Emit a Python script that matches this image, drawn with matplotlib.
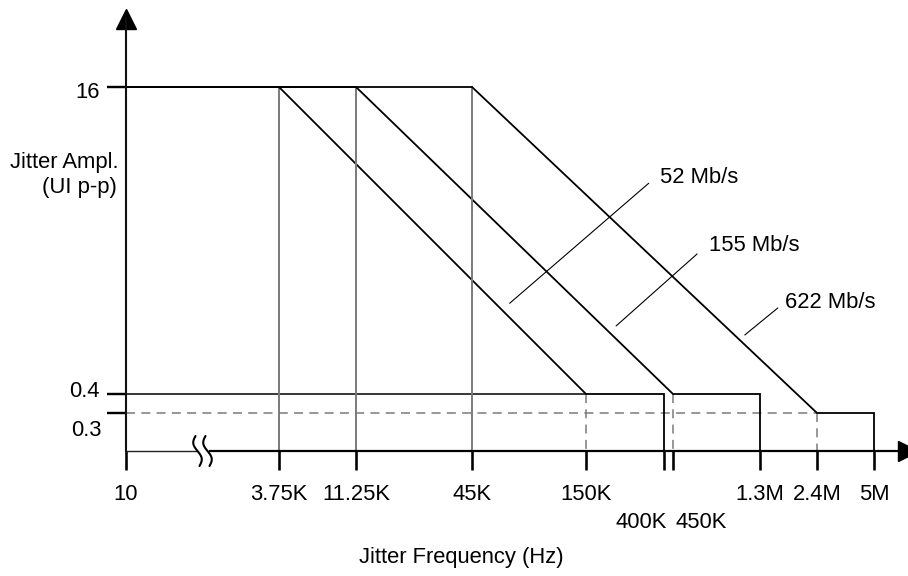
import numpy as np
import matplotlib
matplotlib.use("Agg")
import matplotlib.pyplot as plt
from matplotlib.ticker import NullLocator
from matplotlib.transforms import blended_transform_factory, ScaledTranslation

plt.rcParams['font.family'] = ['Liberation Sans', 'DejaVu Sans']
plt.rcParams['lines.scale_dashes'] = False

# ---------------- data ----------------
freq_ticks = [10, 3.75e3, 11.25e3, 45e3, 150e3, 400e3, 450e3, 1.3e6, 2.4e6, 5e6]
freq_labels = ["10", "3.75K", "11.25K", "45K", "150K", "400K", "450K", "1.3M", "2.4M", "5M"]
amp_ticks = [16, 0.4, 0.3]
amp_labels = ["16", "0.4", "0.3"]

rates = ["52 Mb/s", "155 Mb/s", "622 Mb/s"]
f_start = 10                       # lowest frequency of every mask
f_corner_hi = [3.75e3, 11.25e3, 45e3]   # end of the 16 UI plateau
f_corner_lo = [150e3, 450e3, 2.4e6]     # start of the low plateau
f_stop = [400e3, 1.3e6, 5e6]            # upper end of the mask
amp_hi = [16, 16, 16]
amp_lo = [0.4, 0.4, 0.3]

# ---------------- schematic axis layout ----------------
W, H, DPI = 908, 576, 100
X0, XR = 126, 908          # origin and right end (pixels)
Y0, YT = 451, 19           # origin and top end (pixels, from top)

# piecewise log axis (the low-frequency part is compressed by an axis break)
X_LOG = np.log10([1e-3] + freq_ticks + [1e9])
X_PX = np.array([-634, 126, 279, 356, 472, 586, 664, 673, 760, 817, 874, 1311.0])
Y_LOG = np.log10([1e-3, 0.3, 0.4, 16, 1e3])
Y_PX = np.array([883.6, 413, 394, 87, -254.2])


def _log(v):
    v = np.asarray(v, dtype=float)
    return np.log10(np.where(v > 0, v, 1e-12))


def x_fwd(f):
    return np.interp(_log(f), X_LOG, X_PX)


def x_inv(p):
    return 10 ** np.interp(np.asarray(p, dtype=float), X_PX, X_LOG)


def y_fwd(v):
    return H - np.interp(_log(v), Y_LOG, Y_PX)


def y_inv(s):
    return 10 ** np.interp(H - np.asarray(s, dtype=float), Y_PX[::-1], Y_LOG[::-1])


FS = 15.8
fig = plt.figure(figsize=(W / DPI, H / DPI), dpi=DPI)
ax = fig.add_axes([X0 / W, (H - Y0) / H, (XR - X0) / W, (Y0 - YT) / H])
ax.set_xscale('function', functions=(x_fwd, x_inv))
ax.set_yscale('function', functions=(y_fwd, y_inv))
ax.set_xlim(float(x_inv(X0)), float(x_inv(XR)))
ax.set_ylim(float(y_inv(H - Y0)), float(y_inv(H - YT)))
ax.patch.set_visible(False)
y_base = ax.get_ylim()[0]

LW = 1.3
GREY = '#7a7a7a'

# reference levels
ax.plot([f_start, f_corner_lo[0]], [0.4, 0.4], color='k', lw=1.1, clip_on=False)
ax.plot([f_start, f_corner_lo[2]], [0.3, 0.3], color=GREY, lw=1.1,
        linestyle=(0, (6.5, 4.5)), clip_on=False)

for i in range(len(rates)):
    # vertical marker at the upper corner
    ax.plot([f_corner_hi[i], f_corner_hi[i]], [amp_hi[i], y_base], color=GREY, lw=1.4)
    # dashed drop at the lower corner
    ax.plot([f_corner_lo[i], f_corner_lo[i]], [amp_lo[i], y_base], color=GREY, lw=1.1,
            linestyle=(0, (6.5, 4.5)))
    # the tolerance mask
    ax.plot([f_start, f_corner_hi[i], f_corner_lo[i], f_stop[i], f_stop[i]],
            [amp_hi[i], amp_hi[i], amp_lo[i], amp_lo[i], y_base],
            color='k', lw=LW, solid_joinstyle='miter', clip_on=False)

# rate labels with leader lines
anchor_f = [67e3, 219e3, 1.08e6]
anchor_a = [1.19, 0.906, 0.813]
leader_end = [(139, 120), (81, 72), (33, 27)]
text_off = [(150, 120), (93, 75), (40, 27)]
for i, name in enumerate(rates):
    ax.annotate('', xy=(anchor_f[i], anchor_a[i]), xytext=leader_end[i],
                textcoords='offset pixels',
                arrowprops=dict(arrowstyle='-', color='k', lw=0.8,
                                shrinkA=0, shrinkB=0))
    ax.annotate(name, xy=(anchor_f[i], anchor_a[i]), xytext=text_off[i],
                textcoords='offset pixels', ha='left', va='baseline', fontsize=FS)

# axes lines and arrows
for s in ['top', 'right', 'bottom']:
    ax.spines[s].set_visible(False)
ax.spines['left'].set_linewidth(1.5)
ax.spines['left'].set_color('#111111')
brk_l = (197 - X0) / (XR - X0)
brk_r = (210 - X0) / (XR - X0)
ax.plot([0, brk_l], [0, 0], transform=ax.transAxes, color='#222222', lw=1.0, clip_on=False)
ax.plot([brk_r, 1], [0, 0], transform=ax.transAxes, color='k', lw=1.6, clip_on=False)
ax.plot([0], [1], marker='^', ms=14.4, color='k', transform=ax.transAxes, clip_on=False)
ax.plot([1], [0], marker='>', ms=14.4, color='k', transform=ax.transAxes, clip_on=False)

# axis break squiggles
t = np.linspace(0, 1, 60)
for xc in (197.5, 207.5):
    sx = xc + 3.2 * np.sin(2 * np.pi * t) + 4.0 * (0.5 - t)
    sy = -15 + 30 * t
    off = ScaledTranslation(0, 0, fig.dpi_scale_trans)
    tr = ax.transAxes + off
    xa = (sx - X0) / (XR - X0)
    ya = sy / (Y0 - YT)
    ax.plot(xa, ya, transform=ax.transAxes, color='k', lw=1.5, clip_on=False,
            solid_capstyle='round')

# ticks
ax.set_xticks(freq_ticks)
ax.set_yticks(amp_ticks)
ax.xaxis.set_minor_locator(NullLocator())
ax.yaxis.set_minor_locator(NullLocator())
ax.tick_params(axis='x', direction='out', length=19 * 0.72, width=2.6 * 0.72,
               color='k', labelbottom=False)
ax.tick_params(axis='y', direction='out', length=19 * 0.72, width=2.4 * 0.72,
               color='k', labelleft=False)

tx = blended_transform_factory(ax.transData, ax.transAxes)
for f, lab in zip(freq_ticks, freq_labels):
    dx, dy, ha = 0, -49, 'center'
    if lab == "400K":
        dx, dy, ha = 3, -77, 'right'
    elif lab == "450K":
        dx, dy, ha = 3, -77, 'left'
    ax.annotate(lab, xy=(f, 0), xycoords=tx, xytext=(dx, dy),
                textcoords='offset pixels', ha=ha, va='baseline', fontsize=FS,
                annotation_clip=False)

ty = blended_transform_factory(ax.transAxes, ax.transData)
y_text_off = {"16": (-26, -11), "0.4": (-26, -3), "0.3": (-24, -23)}
for v, lab in zip(amp_ticks, amp_labels):
    ax.annotate(lab, xy=(0, v), xycoords=ty, xytext=y_text_off[lab],
                textcoords='offset pixels', ha='right', va='baseline', fontsize=FS,
                annotation_clip=False)

# axis titles
fig.text(119 / W, 1 - 168 / H, "Jitter Ampl.", ha='right', va='baseline', fontsize=FS)
fig.text(117 / W, 1 - 193 / H, "(UI p-p)", ha='right', va='baseline', fontsize=FS)
fig.text(461 / W, 1 - 563 / H, "Jitter Frequency (Hz)", ha='center', va='baseline',
         fontsize=FS)

fig.savefig("out.png", dpi=DPI)
